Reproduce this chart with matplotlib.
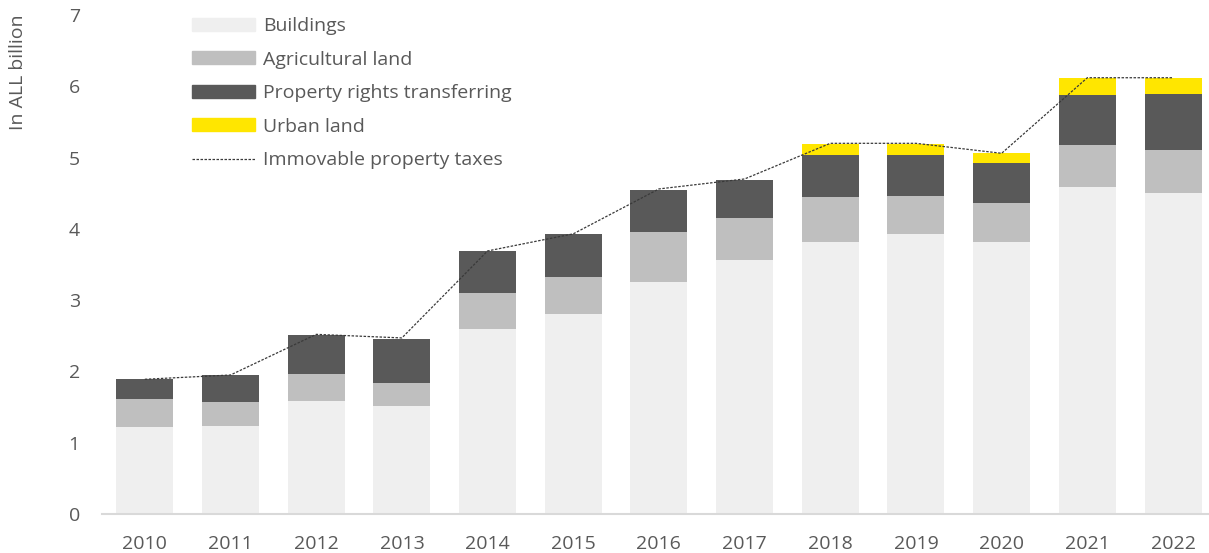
import numpy as np
import matplotlib.pyplot as plt
from matplotlib.patches import Patch
from matplotlib.lines import Line2D

# values in ALL billion
years = ["2010", "2011", "2012", "2013", "2014", "2015", "2016",
         "2017", "2018", "2019", "2020", "2021", "2022"]
buildings = [1.22, 1.23, 1.58, 1.52, 2.59, 2.80, 3.26, 3.56, 3.81, 3.93, 3.81, 4.59, 4.51]
agricultural = [0.39, 0.34, 0.39, 0.32, 0.51, 0.52, 0.70, 0.59, 0.63, 0.53, 0.55, 0.59, 0.59]
property_rights = [0.28, 0.38, 0.54, 0.61, 0.59, 0.61, 0.59, 0.54, 0.59, 0.58, 0.56, 0.70, 0.79]
urban = [0, 0, 0, 0, 0, 0, 0, 0, 0.16, 0.15, 0.14, 0.24, 0.23]
total_taxes = [1.89, 1.95, 2.52, 2.47, 3.69, 3.93, 4.56, 4.70, 5.20, 5.20, 5.06, 6.12, 6.12]

C_BUILD = "#efefef"
C_AGRI = "#bfbfbf"
C_PROP = "#595959"
C_URBAN = "#ffe600"
TXT = "#595959"
FS = 14

plt.rcParams["font.family"] = ["Open Sans", "DejaVu Sans"]

fig = plt.figure(figsize=(12.09, 5.53), dpi=100)
ax = fig.add_axes([102 / 1209, 1 - 514 / 553, 1 - 102 / 1209, (514 - 15) / 553])

x = np.arange(len(years))
w = 0.665
b1 = np.array(buildings)
b2 = b1 + np.array(agricultural)
b3 = b2 + np.array(property_rights)

ax.bar(x, buildings, w, color=C_BUILD, label="Buildings")
ax.bar(x, agricultural, w, bottom=b1, color=C_AGRI, label="Agricultural land")
ax.bar(x, property_rights, w, bottom=b2, color=C_PROP, label="Property rights transferring")
ax.bar(x, urban, w, bottom=b3, color=C_URBAN, label="Urban land")
ax.plot(x, total_taxes, color="#3a3a3a", lw=0.9, ls=(0, (2, 1.2)),
        label="Immovable property taxes")

ax.set_xlim(-0.5, 12.42)
ax.set_ylim(0, 7)
ax.set_yticks(range(0, 8))
ax.set_xticks(x)
ax.set_xticklabels(years)
ax.tick_params(axis="both", length=0, labelsize=FS, labelcolor=TXT)
ax.tick_params(axis="y", pad=16)
ax.tick_params(axis="x", pad=15)
for s in ["top", "right", "left"]:
    ax.spines[s].set_visible(False)
ax.spines["bottom"].set_color("#d9d9d9")
ax.spines["bottom"].set_linewidth(1.5)

fig.text(18 / 1209, 1 - 72 / 553, "In ALL billion", rotation=90,
         va="center", ha="center", fontsize=FS, color=TXT)

handles = [Patch(color=C_BUILD), Patch(color=C_AGRI), Patch(color=C_PROP),
           Patch(color=C_URBAN),
           Line2D([], [], color="#3a3a3a", lw=0.9, ls=(0, (2, 1.2)))]
labels = ["Buildings", "Agricultural land", "Property rights transferring",
          "Urban land", "Immovable property taxes"]
leg = fig.legend(handles, labels, loc="upper left",
                 bbox_to_anchor=(192 / 1209, 1 - 17 / 553),
                 frameon=False, fontsize=FS, handlelength=3.25,
                 handleheight=0.67, handletextpad=0.4, labelspacing=0.8,
                 borderaxespad=0, borderpad=0)
for t in leg.get_texts():
    t.set_color(TXT)

fig.savefig("out.png", dpi=100)
